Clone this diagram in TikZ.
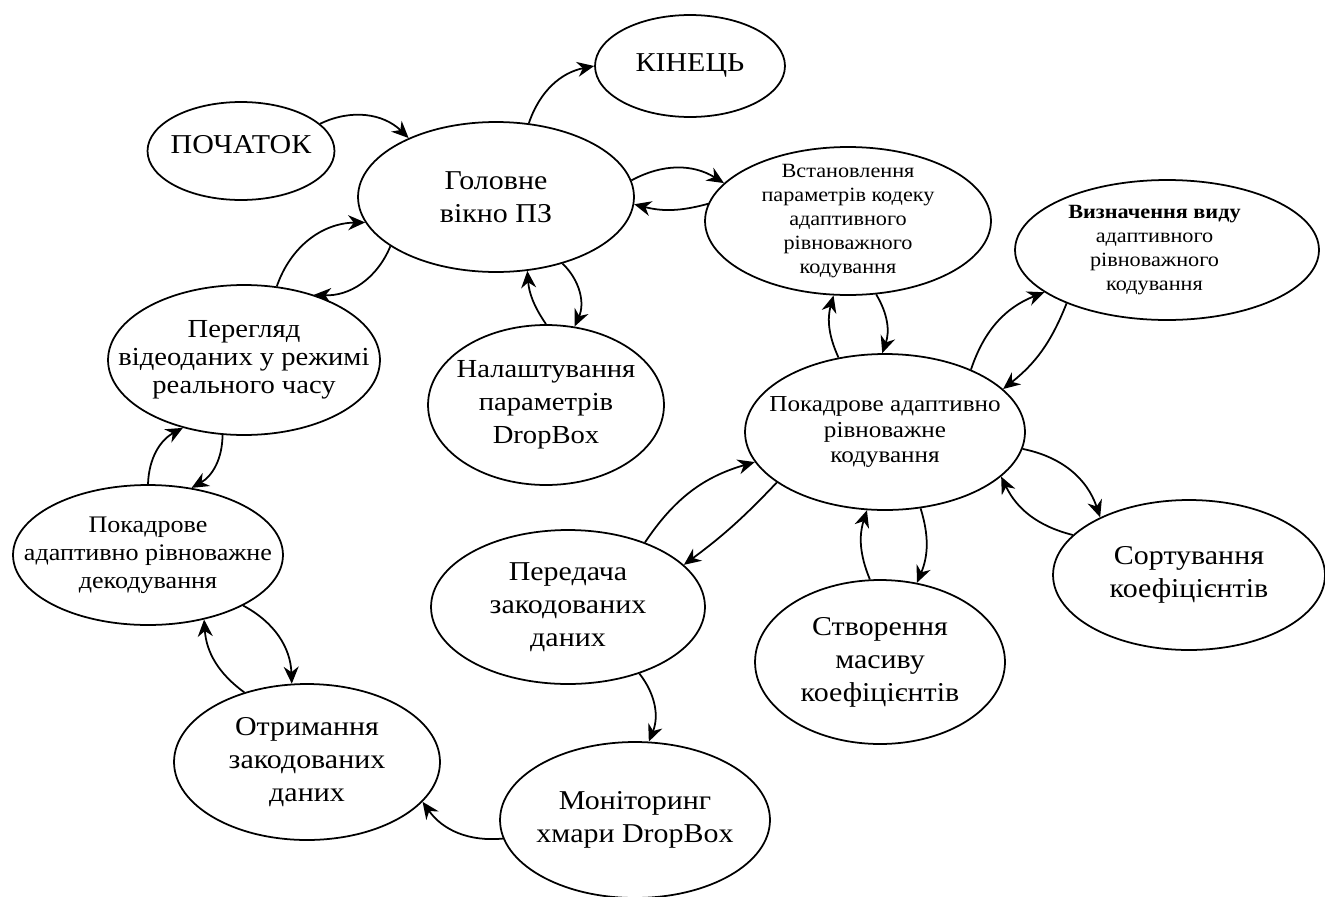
\documentclass[tikz,border=0pt]{standalone}
\usepackage{fontspec}
\setmainfont{Liberation Serif}[FakeStretch=1.1]
\usetikzlibrary{arrows.meta,shapes.geometric}
\tikzset{
  bubble/.style={ellipse,draw=black,line width=1pt,align=center,inner xsep=-0.8cm,inner ysep=-0.3cm},
  bigtext/.style={font=\fontsize{15.5}{18.8}\selectfont},
  midtext/.style={font=\fontsize{13.5}{16}\selectfont},
  smalltext/.style={font=\fontsize{11.5}{13.7}\selectfont},
  edge/.style={-{Stealth[length=3.4mm,width=3mm]},line width=1pt}
}
\begin{document}
\begin{tikzpicture}[x=0.02cm,y=0.02cm]
  \useasboundingbox (0,-896) rectangle (1325,0);
  \node[bubble,bigtext,minimum width=3.74cm,minimum height=1.96cm] (start) at (241,-151) {\raisebox{0.26cm}{ПОЧАТОК}};
  \node[bubble,bigtext,minimum width=3.8cm,minimum height=2.04cm] (finish) at (690,-66) {\raisebox{0.12cm}{КІНЕЦЬ}};
  \node[bubble,bigtext,minimum width=5.52cm,minimum height=3.0cm] (main) at (496,-197) {Головне\\вікно ПЗ};
  \node[bubble,smalltext,minimum width=5.72cm,minimum height=2.96cm] (codecset) at (848,-221) {Встановлення\\параметрів кодеку\\адаптивного\\рівноважного\\кодування};
  \node[bubble,smalltext,minimum width=6.08cm,minimum height=2.8cm] (kindsel) at (1167,-250) {\hspace*{-0.5cm}\textbf{Визначення виду}\\\hspace*{-0.5cm}адаптивного\\\hspace*{-0.5cm}рівноважного\\\hspace*{-0.5cm}кодування};
  \node[bubble,font=\fontsize{14.8}{16}\selectfont,minimum width=5.44cm,minimum height=3.0cm] (viewer) at (244,-360) {Перегляд\\відеоданих у режимі\\реального часу};
  \node[bubble,font=\fontsize{14.8}{18.8}\selectfont,minimum width=4.72cm,minimum height=3.2cm] (dbsetup) at (546,-405) {Налаштування\\параметрів\\DropBox};
  \node[bubble,font=\fontsize{13}{14.3}\selectfont,minimum width=5.6cm,minimum height=3.12cm] (framecode) at (885,-432) {Покадрове адаптивно\\рівноважне\\кодування};
  \node[bubble,midtext,minimum width=5.4cm,minimum height=2.8cm] (framedecode) at (148,-555) {Покадрове\\адаптивно рівноважне\\декодування};
  \node[bubble,bigtext,minimum width=5.48cm,minimum height=3.08cm] (sendenc) at (568,-607) {Передача\\закодованих\\даних};
  \node[bubble,bigtext,minimum width=5.44cm,minimum height=3.0cm] (sortcoef) at (1189,-575) {Сортування\\коефіцієнтів};
  \node[bubble,bigtext,minimum width=5.0cm,minimum height=3.28cm] (makearr) at (880,-662) {Створення\\масиву\\коефіцієнтів};
  \node[bubble,bigtext,minimum width=5.32cm,minimum height=3.12cm] (getenc) at (307,-762) {Отримання\\закодованих\\даних};
  \node[bubble,bigtext,minimum width=5.4cm,minimum height=3.12cm] (monitor) at (635,-820) {Моніторинг\\хмари DropBox};
  % main window
  \draw[edge] (start.19) to[bend left=35] (main.146);
  \draw[edge] (main.66) to[bend left=30] (finish.180);
  \draw[edge] (main.7) to[bend left=30] (codecset.163);
  \draw[edge] (codecset.173) to[bend left=15] (main.357);
  \draw[edge] (viewer.66) to[bend left=35] (main.191);
  \draw[edge] (main.205) to[bend left=35] (viewer.43);
  \draw[edge] (dbsetup.90) to[bend left=15] (main.293);
  \draw[edge] (main.315) to[bend left=35] (dbsetup.70);
  % coding
  \draw[edge] (framecode.122) to[bend left=20] (codecset.259);
  \draw[edge] (codecset.291) to[bend left=25] (framecode.92);
  \draw[edge] (framecode.36) to[bend left=25] (kindsel.199);
  \draw[edge] (kindsel.208) to[bend left=15] (framecode.20);
  \draw[edge] (framecode.353) to[bend left=30] (sortcoef.147);
  \draw[edge] (sortcoef.161) to[bend left=25] (framecode.339);
  \draw[edge] (makearr.97) to[bend left=20] (framecode.257);
  \draw[edge] (framecode.295) to[bend left=20] (makearr.65);
  \draw[edge] (sendenc.40) to[bend left=20] (framecode.193);
  \draw[edge] (framecode.205) to[bend left=5] (sendenc.20);
  % transfer and decoding
  \draw[edge] (sendenc.317) to[bend left=30] (monitor.80);
  \draw[edge] (monitor.188) to[bend left=30] (getenc.341);
  \draw[edge] (getenc.132) to[bend left=25] (framedecode.311);
  \draw[edge] (framedecode.332) to[bend left=30] (getenc.101);
  \draw[edge] (framedecode.90) to[bend left=30] (viewer.228);
  \draw[edge] (viewer.254) to[bend left=30] (framedecode.57);
\end{tikzpicture}
\end{document}
